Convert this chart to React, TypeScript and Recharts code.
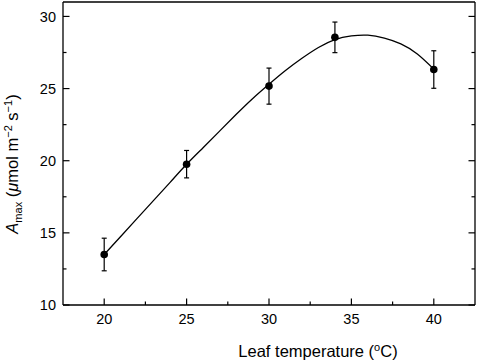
import { ComposedChart, Line, Scatter, ErrorBar, XAxis, YAxis } from 'recharts';

// fitted curve
const curveX = [20, 21, 22, 23, 24, 25, 26, 27, 28, 29, 30, 31, 32, 33, 34, 35, 36, 37, 38, 39, 40];
const curveY = [13.5, 14.75, 16.0, 17.25, 18.5, 19.75, 20.9, 22.05, 23.2, 24.3, 25.3, 26.25, 27.1, 27.85, 28.4, 28.65, 28.7, 28.5, 28.1, 27.4, 26.35];

// measured points with error bars
const pointX = [20, 25, 30, 34, 40];
const pointY = [13.5, 19.76, 25.17, 28.55, 26.32];
const pointErr = [1.13, 0.95, 1.25, 1.06, 1.3];

const xMajor = [20, 25, 30, 35, 40];
const xMinor = [22.5, 27.5, 32.5, 37.5];
const yMajor = [10, 15, 20, 25, 30];
const yMinor = [12.5, 17.5, 22.5, 27.5];

const curve = curveX.map((x, i) => ({ x, y: curveY[i] }));
const points = pointX.map((x, i) => ({ x, y: pointY[i], err: pointErr[i] }));

const FONT = '"Liberation Sans", Arial, sans-serif';
const MAJOR = 6.5;
const MINOR = 3.5;
const BOTTOM_MARGIN = 9;
const LEFT_MARGIN = 7;
const TICK = '#000';

// ticks point into the plot, minor ones are shorter and unlabelled
function BottomTick(props: any) {
  const { x, y, payload } = props;
  const major = xMajor.includes(payload.value);
  const axisY = y - BOTTOM_MARGIN;
  return (
    <g>
      <line x1={x} x2={x} y1={axisY} y2={axisY - (major ? MAJOR : MINOR)} stroke={TICK} strokeWidth={1.2} />
      {major && (
        <text x={x} y={y} dy="0.71em" textAnchor="middle" fontSize={14.5} fontFamily={FONT} fill="#000">
          {payload.value}
        </text>
      )}
    </g>
  );
}

function TopTick(props: any) {
  const { x, y, payload } = props;
  const major = xMajor.includes(payload.value);
  return <line x1={x} x2={x} y1={y} y2={y + (major ? MAJOR : MINOR)} stroke={TICK} strokeWidth={1.2} />;
}

function LeftTick(props: any) {
  const { x, y, payload } = props;
  const major = yMajor.includes(payload.value);
  const axisX = x + LEFT_MARGIN;
  return (
    <g>
      <line x1={axisX} x2={axisX + (major ? MAJOR : MINOR)} y1={y} y2={y} stroke={TICK} strokeWidth={1.2} />
      {major && (
        <text x={x} y={y} dy="0.355em" textAnchor="end" fontSize={14.5} fontFamily={FONT} fill="#000">
          {payload.value}
        </text>
      )}
    </g>
  );
}

function RightTick(props: any) {
  const { x, y, payload } = props;
  const major = yMajor.includes(payload.value);
  return <line x1={x} x2={x - (major ? MAJOR : MINOR)} y1={y} y2={y} stroke={TICK} strokeWidth={1.2} />;
}

function XTitle(props: any) {
  const { viewBox } = props;
  const cx = viewBox.x + viewBox.width / 2 + 49;
  return (
    <text x={cx} y={357} textAnchor="middle" fontSize={16.5} fontFamily={FONT} fill="#000">
      Leaf temperature (<tspan fontSize={11} dy={-6}>o</tspan>
      <tspan dy={6}>C)</tspan>
    </text>
  );
}

function YTitle() {
  const cx = 18;
  const cy = 164;
  return (
    <text transform={`translate(${cx},${cy}) rotate(-90)`} textAnchor="middle" fontSize={16.5} fontFamily={FONT} fill="#000">
      <tspan fontStyle="italic">A</tspan>
      <tspan fontSize={11} dy={4}>max</tspan>
      <tspan dy={-4}> (</tspan>
      <tspan fontStyle="italic">μ</tspan>
      <tspan>mol m</tspan>
      <tspan fontSize={11} dy={-6}>−2</tspan>
      <tspan dy={6}> s</tspan>
      <tspan fontSize={11} dy={-6}>−1</tspan>
      <tspan dy={6}>)</tspan>
    </text>
  );
}

export default function App() {
  return (
    <div style={{ position: 'absolute', left: 0, top: 0, background: '#fff' }}>
      <ComposedChart width={478} height={360} margin={{ top: 1, right: 2, bottom: 0, left: 0 }}>
        <XAxis
          xAxisId="bottom"
          dataKey="x"
          type="number"
          domain={[17.5, 42.5]}
          ticks={[...xMajor, ...xMinor]}
          interval={0}
          allowDataOverflow
          height={55}
          tickSize={0}
          tickMargin={BOTTOM_MARGIN}
          tick={BottomTick}
          axisLine={{ stroke: '#000', strokeWidth: 1.3 }}
          label={{ content: XTitle }}
        />
        <XAxis
          xAxisId="top"
          orientation="top"
          type="number"
          domain={[17.5, 42.5]}
          ticks={[...xMajor, ...xMinor]}
          interval={0}
          allowDataOverflow
          height={1}
          tickSize={0}
          tickMargin={0}
          tick={TopTick}
          axisLine={{ stroke: '#000', strokeWidth: 1.3 }}
        />
        <YAxis
          yAxisId="left"
          dataKey="y"
          type="number"
          domain={[10, 31]}
          ticks={[...yMajor, ...yMinor]}
          interval={0}
          allowDataOverflow
          width={63}
          tickSize={0}
          tickMargin={LEFT_MARGIN}
          tick={LeftTick}
          axisLine={{ stroke: '#000', strokeWidth: 1.3 }}
          label={{ content: YTitle }}
        />
        <YAxis
          yAxisId="right"
          orientation="right"
          type="number"
          domain={[10, 31]}
          ticks={[...yMajor, ...yMinor]}
          interval={0}
          allowDataOverflow
          width={1}
          tickSize={0}
          tickMargin={0}
          tick={RightTick}
          axisLine={{ stroke: '#000', strokeWidth: 1.3 }}
        />
        <Line
          xAxisId="bottom"
          yAxisId="left"
          data={curve}
          dataKey="y"
          type="natural"
          dot={false}
          stroke="#000"
          strokeWidth={1.3}
          isAnimationActive={false}
        />
        <Scatter
          xAxisId="bottom"
          yAxisId="left"
          data={points}
          dataKey="y"
          fill="#000"
          isAnimationActive={false}
          shape={(p: any) => <circle cx={p.cx} cy={p.cy} r={3.8} fill="#000" />}
        >
          <ErrorBar dataKey="err" direction="y" width={2.5} stroke="#000" strokeWidth={1.2} />
        </Scatter>
      </ComposedChart>
    </div>
  );
}
